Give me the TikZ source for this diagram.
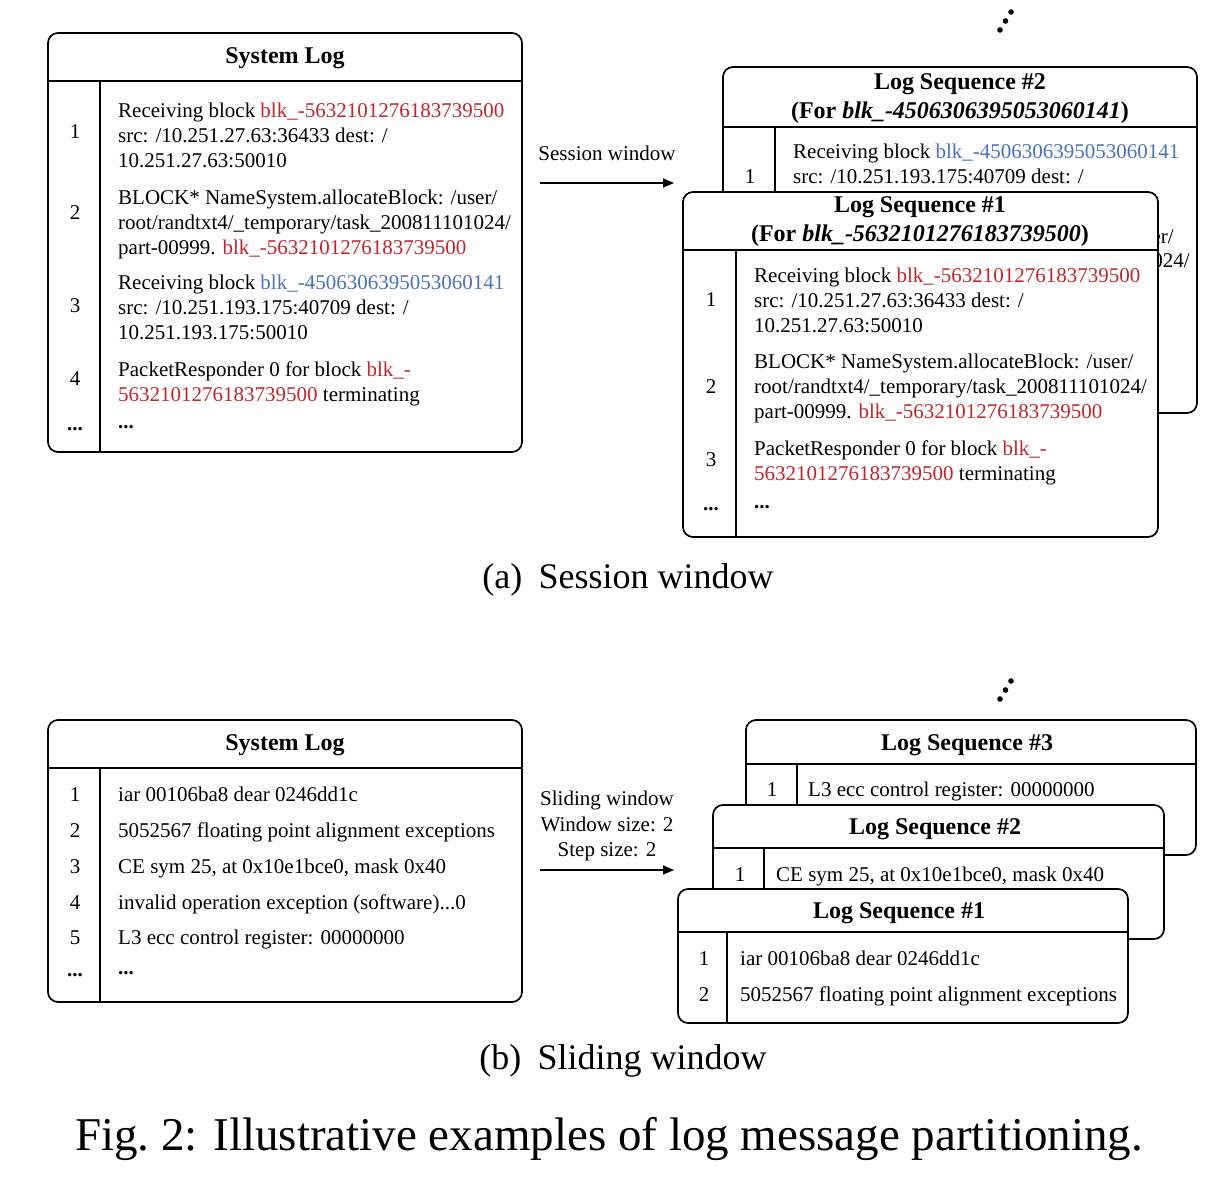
\documentclass[tikz,border=0pt]{standalone}
\usepackage{fontspec}
\setmainfont{Liberation Serif}
\usetikzlibrary{arrows.meta}
\definecolor{logred}{RGB}{192,39,45}
\definecolor{logblue}{RGB}{74,116,186}
\newcommand{\rd}[1]{\textcolor{logred}{#1}}
\newcommand{\bl}[1]{\textcolor{logblue}{#1}}
\tikzset{
  box/.style={draw, line width=1.7pt, fill=white, rounded corners=10pt},
  sepline/.style={line width=1.7pt},
  num/.style={inner sep=0pt, text height=15pt, text depth=5pt, font=\fontsize{21}{25}\selectfont},
  txt/.style={inner sep=0pt, anchor=west, text height=15pt, text depth=5pt, font=\fontsize{21}{25}\selectfont},
  txtm/.style={inner sep=0pt, anchor=west, align=left, font=\fontsize{21}{25}\selectfont},
  frag/.style={inner sep=0pt, anchor=east, text height=15pt, text depth=5pt, font=\fontsize{21}{25}\selectfont},
  ttl/.style={inner sep=0pt, align=center, font=\fontsize{24}{29}\selectfont\bfseries},
  lbl/.style={inner sep=0pt, align=center, font=\fontsize{21}{25.5}\selectfont},
  flow/.style={line width=1.3pt, -{Triangle[length=11pt,width=9pt]}},
  dotmark/.style={fill=black},
}
\begin{document}
\begin{tikzpicture}[x=1pt,y=-1pt]
\useasboundingbox (0,0) rectangle (1224,1186);

% ---------------- (a) Session window ----------------
% System log
\draw[box] (48,33) rectangle (522,452);
\draw[sepline] (48,81) -- (522,81);
\draw[sepline] (100,81) -- (100,452);
\node[ttl] (slA) at (285,58) {System Log};
\node[num] (a1n) at (75,133) {1};
\node[txtm] (a1t) at (118,135) {Receiving block \rd{blk\_-5632101276183739500}\\src: /10.251.27.63:36433 dest: /\\10.251.27.63:50010};
\node[num] (a2n) at (75,214) {2};
\node[txtm] (a2t) at (118,224) {BLOCK* NameSystem.allocateBlock: /user/\\root/randtxt4/\_temporary/task\_200811101024/\\part-00999. \rd{blk\_-5632101276183739500}};
\node[num] (a3n) at (75,307) {3};
\node[txtm] (a3t) at (118,307) {Receiving block \bl{blk\_-4506306395053060141}\\src: /10.251.193.175:40709 dest: /\\10.251.193.175:50010};
\node[num] (a4n) at (75,380) {4};
\node[txtm] (a4t) at (118,384) {PacketResponder 0 for block \rd{blk\_-}\\\rd{5632101276183739500} terminating};
\node[num] (a5n) at (75,425) {\textbf{...}};
\node[txt] (a5t) at (118,423) {\textbf{...}};

% arrow
\node[lbl] (swl) at (607,153) {Session window};
\coordinate (swa) at (540,183);
\coordinate (swb) at (674,183);
\draw[flow] (swa) -- (swb);

% dots
\fill[dotmark] (1000,30) circle (2.8);
\fill[dotmark] (1005.5,21) circle (2.8);
\fill[dotmark] (1011,12) circle (2.8);

% Log sequence #2
\draw[box] (723,67) rectangle (1197,413);
\draw[sepline] (723,127) -- (1197,127);
\draw[sepline] (775,127) -- (775,413);
\node[ttl] (s2t) at (960,99) {Log Sequence \#2\\(For \textit{blk\_-4506306395053060141})};
\node[num] (s2n1) at (750,178) {1};
\node[txtm] (s2t1) at (793,164) {Receiving block \bl{blk\_-4506306395053060141}\\src: /10.251.193.175:40709 dest: /};
\node[frag] (s2f1) at (1174,238) {er/};
\node[frag] (s2f2) at (1190,262) {024/};

% Log sequence #1
\draw[box] (683,192) rectangle (1158,537);
\draw[sepline] (683,250) -- (1158,250);
\draw[sepline] (736,250) -- (736,537);
\node[ttl] (s1t) at (920,222) {Log Sequence \#1\\(For \textit{blk\_-5632101276183739500})};
\node[num] (s1n1) at (711,301) {1};
\node[txtm] (s1t1) at (754,300) {Receiving block \rd{blk\_-5632101276183739500}\\src: /10.251.27.63:36433 dest: /\\10.251.27.63:50010};
\node[num] (s1n2) at (711,388) {2};
\node[txtm] (s1t2) at (754,388) {BLOCK* NameSystem.allocateBlock: /user/\\root/randtxt4/\_temporary/task\_200811101024/\\part-00999. \rd{blk\_-5632101276183739500}};
\node[num] (s1n3) at (711,461) {3};
\node[txtm] (s1t3) at (754,463) {PacketResponder 0 for block \rd{blk\_-}\\\rd{5632101276183739500} terminating};
\node[num] (s1n4) at (711,505) {\textbf{...}};
\node[txt] (s1t4) at (754,503) {\textbf{...}};

\node[inner sep=0pt, font=\fontsize{36}{40}\selectfont] (capa) at (628,580) {(a)\hspace{0.45em}Session window};

% ---------------- (b) Sliding window ----------------
\draw[box] (48,720) rectangle (522,1002);
\draw[sepline] (48,768) -- (522,768);
\draw[sepline] (100,768) -- (100,1002);
\node[ttl] (slB) at (285,745) {System Log};
\node[num] (b1n) at (75,796) {1};
\node[txt] (b1t) at (118,796) {iar 00106ba8 dear 0246dd1c};
\node[num] (b2n) at (75,832) {2};
\node[txt] (b2t) at (118,832) {5052567 floating point alignment exceptions};
\node[num] (b3n) at (75,868) {3};
\node[txt] (b3t) at (118,868) {CE sym 25, at 0x10e1bce0, mask 0x40};
\node[num] (b4n) at (75,904) {4};
\node[txt] (b4t) at (118,904) {invalid operation exception (software)...0};
\node[num] (b5n) at (75,939) {5};
\node[txt] (b5t) at (118,939) {L3 ecc control register: 00000000};
\node[num] (b6n) at (75,971) {\textbf{...}};
\node[txt] (b6t) at (118,969) {\textbf{...}};

\node[lbl] (sdl) at (607,826) {Sliding window\\Window size: 2\\Step size: 2};
\coordinate (sda) at (540,870);
\coordinate (sdb) at (674,870);
\draw[flow] (sda) -- (sdb);

\fill[dotmark] (1000,699) circle (2.8);
\fill[dotmark] (1005.5,690) circle (2.8);
\fill[dotmark] (1011,681) circle (2.8);

% Log sequence #3
\draw[box] (746,720) rectangle (1196,855);
\draw[sepline] (746,764) -- (1196,764);
\draw[sepline] (797,764) -- (797,855);
\node[ttl] (q3t) at (967,745) {Log Sequence \#3};
\node[num] (q3n1) at (772,791) {1};
\node[txt] (q3t1) at (808,791) {L3 ecc control register: 00000000};

% Log sequence #2
\draw[box] (713,805) rectangle (1164,939);
\draw[sepline] (713,848) -- (1164,848);
\draw[sepline] (764,848) -- (764,939);
\node[ttl] (q2t) at (935,829) {Log Sequence \#2};
\node[num] (q2n1) at (740,876) {1};
\node[txt] (q2t1) at (776,876) {CE sym 25, at 0x10e1bce0, mask 0x40};

% Log sequence #1
\draw[box] (678,889) rectangle (1128,1023);
\draw[sepline] (678,932) -- (1128,932);
\draw[sepline] (727,932) -- (727,1023);
\node[ttl] (q1t) at (899,913) {Log Sequence \#1};
\node[num] (q1n1) at (704,960) {1};
\node[txt] (q1t1) at (740,960) {iar 00106ba8 dear 0246dd1c};
\node[num] (q1n2) at (704,996) {2};
\node[txt] (q1t2) at (740,996) {5052567 floating point alignment exceptions};

\node[inner sep=0pt, font=\fontsize{36}{40}\selectfont] (capb) at (623,1061) {(b)\hspace{0.45em}Sliding window};

\node[inner sep=0pt, font=\fontsize{47}{52}\selectfont] (fig) at (609,1139) {Fig.\ 2: Illustrative examples of log message partitioning.};
\end{tikzpicture}
\end{document}
